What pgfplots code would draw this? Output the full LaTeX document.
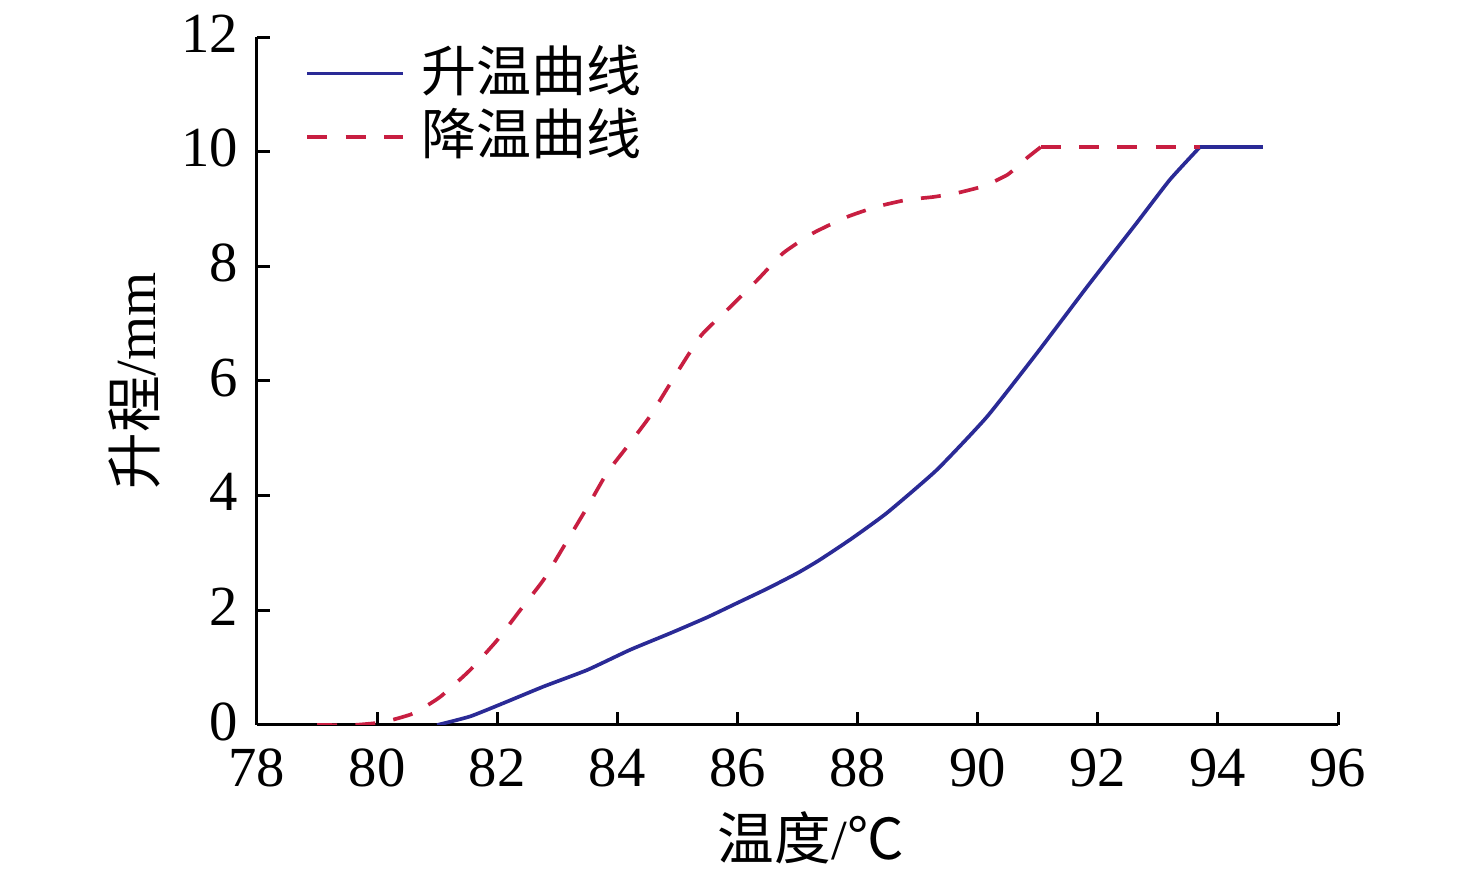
\documentclass[border=0pt]{standalone}
\usepackage{fontspec}
\setmainfont{Liberation Serif}
\newfontfamily\cjk{Noto Sans CJK SC}
\usepackage{pgfplots}
\pgfplotsset{compat=1.18}
\definecolor{heatblue}{RGB}{42,42,150}
\definecolor{coolred}{RGB}{200,30,65}
\begin{document}
\fontsize{16.5}{19}\selectfont
\begin{tikzpicture}
\begin{axis}[
  scale only axis, width=324.3pt, height=206.4pt,
  xmin=78, xmax=96, ymin=0, ymax=12,
  xtick={78,80,...,96}, ytick={0,2,...,12},
  axis lines*=left,
  tick align=inside, major tick length=3.8pt,
  axis line style={line width=0.9pt, black},
  tick style={line width=0.9pt, black},
  /pgf/number format/assume math mode=true,
  ticklabel style={font=\fontsize{17}{19}\selectfont},
  xticklabel style={yshift=-1.5pt},
  yticklabel style={yshift=1pt},
  xlabel={{\cjk 温度}/{\cjk ℃}},
  ylabel={{\cjk 升程}/mm},
  xlabel style={yshift=4pt, xshift=4pt},
  ylabel style={yshift=-4.8pt},
  label style={font=\fontsize{17}{19}\selectfont},
  legend cell align=left,
  legend style={draw=none, fill=none, at={(0.035,1.0)}, anchor=north west,
    font=\cjk\fontsize{16.5}{19}\selectfont,
    nodes={inner sep=1pt, text height=13pt, text depth=2.5pt}, row sep=1.5pt,
    /tikz/every odd column/.append style={column sep=4pt}},
  legend image code/.code={\draw[#1] (0pt,0pt) -- (28.8pt,0pt);},
]
\addplot[heatblue, line width=1.1pt, line join=round, smooth, tension=0.3] coordinates {
(81.0,0) (81.55,0.15) (82.1,0.38) (82.77,0.67) (83.5,0.96) (84.21,1.31)
(84.88,1.6) (85.5,1.88) (86,2.13) (86.5,2.38) (87,2.65) (87.37,2.88)
(87.9,3.25) (88.49,3.70) (89.32,4.45) (90.15,5.37) (90.99,6.49)
(91.82,7.64) (92.65,8.76) (93.2,9.51) (93.7,10.08)};
\addlegendentry{升温曲线}
\addplot[coolred, line width=1.1pt, dash pattern=on 6pt off 5.5pt, line join=round, smooth, tension=0.3] coordinates {
(79.0,0) (79.6,0.0) (80.1,0.05) (80.6,0.2) (81.05,0.49) (81.55,0.96)
(82.0,1.48) (82.38,2.0) (82.77,2.53) (83.1,3.1) (83.5,3.8) (83.83,4.4)
(84.16,4.85) (84.54,5.38) (84.99,6.14) (85.4,6.8) (85.83,7.24) (86.33,7.76)
(86.76,8.23) (87.26,8.58) (87.82,8.86) (88.32,9.04) (88.82,9.16) (89.26,9.21)
(89.66,9.28) (90.1,9.4) (90.5,9.6) (90.82,9.89) (91.05,10.08)};
\addlegendentry{降温曲线}
\addplot[coolred, line width=1.1pt, dash pattern=on 6pt off 5.5pt, forget plot] coordinates {
(91.05,10.08) (93.7,10.08)};
\addplot[heatblue, line width=1.1pt, forget plot] coordinates {
(93.7,10.08) (94.75,10.08)};
\end{axis}
\pgfresetboundingbox
\path[use as bounding box] (-77.1pt,-45pt) rectangle (365.7pt,217.5pt);
\end{tikzpicture}
\end{document}
